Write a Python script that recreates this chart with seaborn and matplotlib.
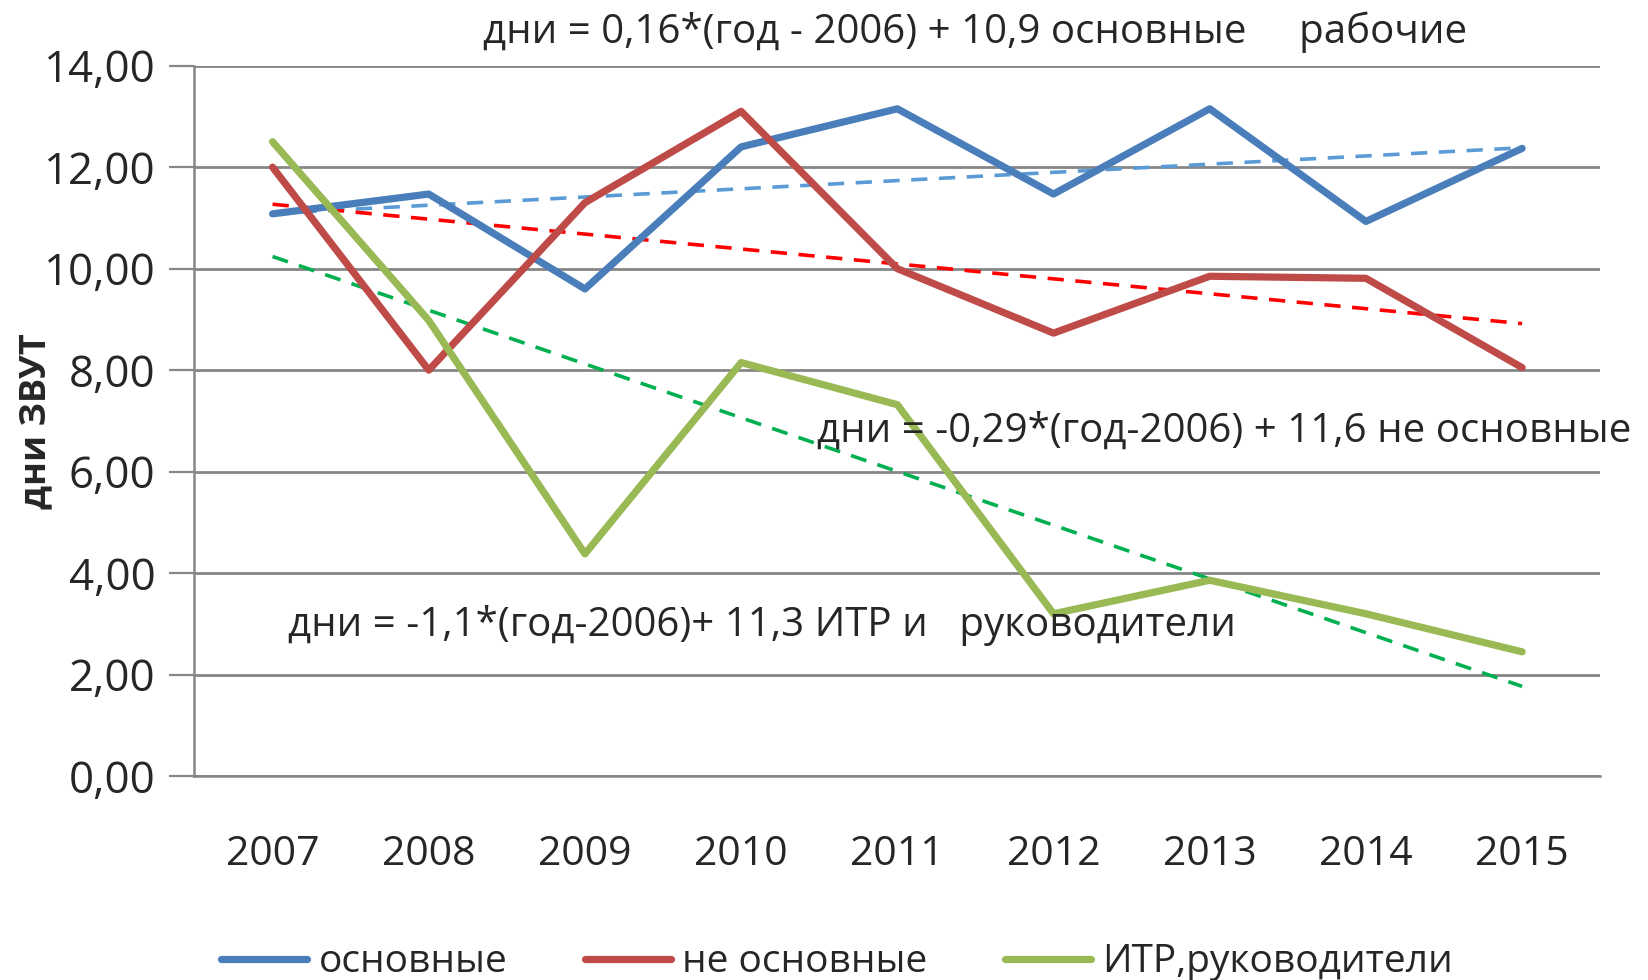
import numpy as np
import matplotlib
matplotlib.use("Agg")
import matplotlib.pyplot as plt
import seaborn as sns

years = ["2007", "2008", "2009", "2010", "2011", "2012", "2013", "2014", "2015"]
main_workers = [11.08, 11.47, 9.60, 12.40, 13.15, 11.47, 13.15, 10.93, 12.37]
aux_workers = [12.00, 8.00, 11.30, 13.10, 10.00, 8.73, 9.85, 9.81, 8.05]
managers = [12.50, 8.98, 4.38, 8.15, 7.32, 3.20, 3.86, 3.20, 2.45]
series_names = ["основные", "не основные", "ИТР,руководители"]
yticks = [0, 2, 4, 6, 8, 10, 12, 14]

sns.set_style("white")
plt.rcParams["font.family"] = ["Open Sans", "DejaVu Sans"]

fig = plt.figure(figsize=(16.48, 9.8), dpi=100)
ax = fig.add_axes([0.118, 0.208, 0.853, 0.725])

x = np.arange(len(years))
colors = ["#4A7EBB", "#BE4B48", "#98B954"]
trend_colors = ["#5B9BD5", "#FF0000", "#00B050"]

# trendlines (linear fit vs. year index), drawn under the data lines
for vals, tc in zip([main_workers, aux_workers, managers], trend_colors):
    k, b = np.polyfit(x, vals, 1)
    line = sns.lineplot(x=x, y=k * x + b, color=tc, lw=2.6, ax=ax, zorder=2)
    line.lines[-1].set_dashes((4.5, 3.2))

handles = []
for vals, c, name in zip([main_workers, aux_workers, managers], colors, series_names):
    sns.lineplot(x=x, y=vals, color=c, lw=5.2, ax=ax, zorder=3)
    handles.append(ax.lines[-1])

ax.set_xlim(-0.5, len(years) - 0.5)
ax.set_ylim(0, 14)
ax.set_yticks(yticks)
ax.set_yticklabels([f"{v:.2f}".replace(".", ",") for v in yticks], fontsize=31.5)
ax.set_xticks(x)
ax.set_xticklabels(years, fontsize=29.5)
ax.set_xticks(np.arange(-0.5, len(years)), minor=True)
ax.tick_params(axis="x", which="major", length=0, pad=42)
ax.tick_params(axis="x", which="minor", length=17, width=1.6, color="#868686", direction="out")
ax.tick_params(axis="y", length=18, width=1.6, color="#868686", direction="out", pad=10, left=True)

ax.grid(axis="y", color="#868686", lw=2)
ax.set_axisbelow(True)
for side in ["top", "right"]:
    ax.spines[side].set_visible(False)
for side in ["left", "bottom"]:
    ax.spines[side].set_color("#868686")
    ax.spines[side].set_linewidth(1.8)

fig.text(0.022, 0.57, "дни ЗВУТ", rotation=90, fontsize=26, fontweight="bold",
         ha="center", va="center")

fig.text(0.293, 0.967, "дни = 0,16*(год - 2006) + 10,9 основные     рабочие",
         fontsize=29, va="center", zorder=5)
fig.text(0.496, 0.56, "дни = -0,29*(год-2006) + 11,6 не основные",
         fontsize=29, va="center", zorder=5)
fig.text(0.175, 0.362, "дни = -1,1*(год-2006)+ 11,3 ИТР и   руководители",
         fontsize=29, va="center", zorder=5)

fig.legend(handles, series_names, loc="center", bbox_to_anchor=(0.508, 0.018), ncol=3,
           frameon=False, fontsize=28, handlelength=2.2, handletextpad=0.3,
           columnspacing=2.0)

plt.savefig("out.png", dpi=100)
